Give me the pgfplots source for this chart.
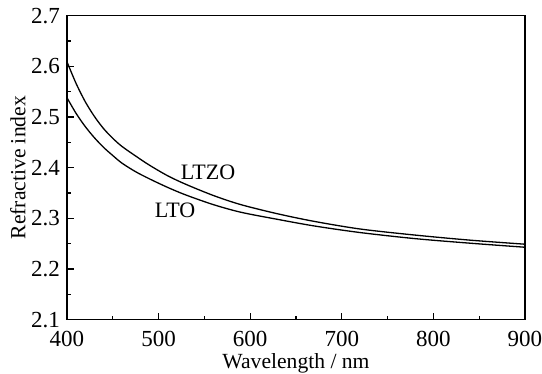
\documentclass[border=0pt]{standalone}
\usepackage{fontspec}
\setmainfont{Liberation Serif}
\usepackage{pgfplots}
\pgfplotsset{compat=1.18}
\begin{document}
\begin{tikzpicture}
\begin{axis}[
  scale only axis,
  width=229pt, height=152pt,
  xmin=400, xmax=900, ymin=2.1, ymax=2.7,
  xtick={400,500,...,900},
  ytick={2.1,2.2,...,2.7},
  minor x tick num=1, minor y tick num=1,
  tick pos=left,
  tick align=inside,
  major tick length=3.3pt, minor tick length=1.8pt,
  axis line style={line width=0.65pt},
  every tick/.style={line width=0.6pt, black},
  /pgf/number format/assume math mode=true,
  yticklabel style={/pgf/number format/.cd, fixed, fixed zerofill, precision=1},
  xticklabel style={/tikz/yshift=-2.3pt, /pgf/number format/.cd, fixed, set thousands separator={}},
  tick label style={font=\fontsize{11.5}{13}\selectfont},
  xlabel={Wavelength / nm},
  ylabel={Refractive index},
  every axis x label/.style={at={([yshift=-21.8pt]rel axis cs:0.5,0)}, anchor=center, font=\fontsize{10.8}{13}\selectfont},
  every axis y label/.style={at={([xshift=-24.5pt]rel axis cs:0,0.5)}, anchor=center, rotate=90, font=\fontsize{10.8}{13}\selectfont},
]
% LTZO
\addplot[black, line width=0.65pt, smooth, mark=none] coordinates {
(400,2.609)(410,2.566)(420,2.530)(430,2.501)(440,2.477)(450,2.458)(460,2.442)
(475,2.423)(490,2.405)(510,2.384)(530,2.367)(560,2.345)(590,2.327)(630,2.309)
(670,2.294)(720,2.279)(780,2.267)(840,2.257)(900,2.249)};
% LTO
\addplot[black, line width=0.65pt, smooth, mark=none] coordinates {
(400,2.538)(410,2.507)(420,2.481)(430,2.459)(440,2.440)(450,2.424)(460,2.409)
(475,2.392)(490,2.378)(510,2.361)(530,2.346)(560,2.327)(590,2.312)(630,2.298)
(670,2.285)(720,2.272)(780,2.260)(840,2.251)(900,2.243)};
\node[font=\fontsize{11}{13}\selectfont] at (axis cs:554,2.391) {LTZO};
\node[font=\fontsize{11}{13}\selectfont] at (axis cs:518,2.316) {LTO};
\end{axis}
\pgfresetboundingbox
\path (-33.5pt,-27.15pt) rectangle (237.5pt,159.85pt);
\end{tikzpicture}
\end{document}
